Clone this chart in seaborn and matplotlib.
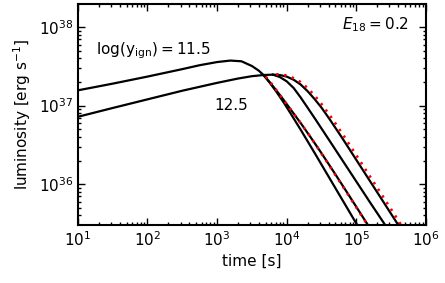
import numpy as np
import matplotlib
matplotlib.use("Agg")
import matplotlib.pyplot as plt
import seaborn as sns

# values, as log10(time [s]) and log10(luminosity [erg/s])
rise_115_logt = [1.0, 1.5, 2.0, 2.5, 2.75, 3.0, 3.19, 3.35, 3.5, 3.6, 3.667]
rise_115_logl = [37.195, 37.28, 37.37, 37.465, 37.515, 37.555, 37.574, 37.565, 37.505, 37.445, 37.39]

rise_125_logt = [1.0, 1.5, 2.0, 2.5, 3.0, 3.3, 3.5, 3.667, 3.8]
rise_125_logl = [36.858, 36.97, 37.08, 37.19, 37.29, 37.345, 37.375, 37.39, 37.395]

fall_a_logt = [3.667, 3.75, 3.85, 3.95, 4.05, 4.2, 4.4, 4.6, 4.8, 5.0, 5.1]
fall_a_logl = [37.39, 37.30, 37.18, 37.05, 36.91, 36.695, 36.40, 36.10, 35.80, 35.50, 35.35]

fall_b_logt = [3.667, 3.75, 3.85, 3.95, 4.05, 4.2, 4.35, 4.5, 4.7, 4.9, 5.16, 5.25]
fall_b_logl = [37.39, 37.305, 37.195, 37.08, 36.96, 36.78, 36.59, 36.395, 36.125, 35.85, 35.49, 35.365]

fall_c_logt = [3.8, 3.9, 4.0, 4.1, 4.2, 4.3, 4.41, 4.6, 4.8, 5.0, 5.2, 5.415, 5.5]
fall_c_logl = [37.395, 37.365, 37.31, 37.225, 37.105, 36.975, 36.83, 36.575, 36.305, 36.035, 35.765, 35.48, 35.365]

fall_d_logt = [3.8, 3.9, 4.0, 4.1, 4.2, 4.3, 4.4, 4.5, 4.615, 4.8, 5.0, 5.2, 5.4, 5.592, 5.7]
fall_d_logl = [37.395, 37.39, 37.37, 37.33, 37.27, 37.185, 37.085, 36.975, 36.83, 36.585, 36.31, 36.035, 35.76, 35.495, 35.345]

# red dotted approximations
red_1_logt = [3.7, 3.8, 3.9, 4.0, 4.1, 4.24, 4.4, 4.6, 4.8, 5.0, 5.19, 5.25]
red_1_logl = [37.37, 37.26, 37.14, 37.02, 36.9, 36.73, 36.525, 36.255, 35.98, 35.705, 35.44, 35.36]

red_2_logt = [3.85, 4.0, 4.1, 4.2, 4.3, 4.4, 4.5, 4.65, 4.85, 5.05, 5.25, 5.45, 5.63, 5.7]
red_2_logl = [37.4, 37.385, 37.35, 37.3, 37.225, 37.13, 37.02, 36.84, 36.575, 36.3, 36.025, 35.75, 35.5, 35.40]

sns.set_style("ticks")
plt.rcParams['font.family'] = ['DejaVu Sans']
plt.rcParams['text.color'] = 'black'
plt.rcParams['axes.labelcolor'] = 'black'
plt.rcParams['xtick.color'] = 'black'
plt.rcParams['ytick.color'] = 'black'

fig = plt.figure(figsize=(4.45, 2.83), dpi=100)
ax = fig.add_axes([0.175, 0.205, 0.782, 0.781])

black_curves = [(rise_115_logt, rise_115_logl), (rise_125_logt, rise_125_logl),
                (fall_a_logt, fall_a_logl), (fall_b_logt, fall_b_logl),
                (fall_c_logt, fall_c_logl), (fall_d_logt, fall_d_logl)]
for lt, ll in black_curves:
    sns.lineplot(x=10 ** np.array(lt), y=10 ** np.array(ll), ax=ax, sort=False,
                 color='black', lw=1.6, estimator=None)

for lt, ll in [(red_1_logt, red_1_logl), (red_2_logt, red_2_logl)]:
    sns.lineplot(x=10 ** np.array(lt), y=10 ** np.array(ll), ax=ax, sort=False,
                 color='red', lw=1.9, linestyle=(0, (0.9, 2.1)), estimator=None)

ax.set_xscale('log')
ax.set_yscale('log')
ax.set_xlim(1e1, 1e6)
ax.set_ylim(10 ** 35.48, 10 ** 38.295)
ax.set_yticks([1e36, 1e37, 1e38])

ax.tick_params(which='both', direction='in', top=True, right=True, labelsize=11, width=1.0)
ax.tick_params(which='major', length=5)
ax.tick_params(which='minor', length=2.5)
for spine in ax.spines.values():
    spine.set_linewidth(1.5)
    spine.set_color('black')

ax.set_xlabel('time [s]', fontsize=11)
ax.set_ylabel(r'luminosity [erg s$^{-1}$]', fontsize=11)

ax.text(10 ** 2.08, 10 ** 37.7, r'log(y$_{\rm ign}$)$=$11.5', fontsize=11, ha='center', va='center')
ax.text(10 ** 3.2, 10 ** 37.0, '12.5', fontsize=11, ha='center', va='center')
ax.text(10 ** 5.27, 10 ** 38.03, r'$E_{18}$$=$0.2', fontsize=11, ha='center', va='center')

fig.savefig('out.png', dpi=100)
